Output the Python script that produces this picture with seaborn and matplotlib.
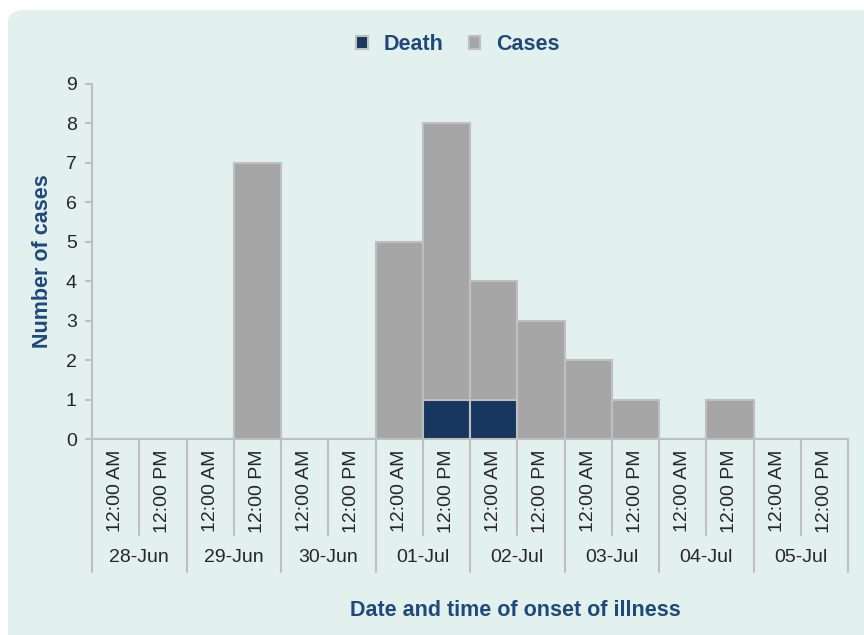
import matplotlib
matplotlib.use("Agg")
import matplotlib.pyplot as plt
from matplotlib.patches import FancyBboxPatch, Patch
import matplotlib.transforms as mtransforms
import seaborn as sns
import pandas as pd

# data
days = ["28-Jun", "29-Jun", "30-Jun", "01-Jul", "02-Jul", "03-Jul", "04-Jul", "05-Jul"]
halves = ["12:00 AM", "12:00 PM"]
deaths = [0, 0, 0, 0, 0, 0, 0, 1, 1, 0, 0, 0, 0, 0, 0, 0]
cases = [0, 0, 0, 7, 0, 0, 5, 7, 3, 3, 2, 1, 0, 1, 0, 0]  # stacked above deaths

GRAY = "#a6a6a6"
NAVY = "#17375e"
EDGE = "#bfbfbf"
BLUE = "#1f497d"
BG = "#e2f1ee"

sns.set_style("white")
plt.rcParams["font.family"] = ["Liberation Sans", "DejaVu Sans"]

slots = list(range(len(cases)))
df = pd.DataFrame({
    "slot": slots,
    "death": deaths,
    "total": [d + c for d, c in zip(deaths, cases)],
})

fig = plt.figure(figsize=(8.64, 6.35), dpi=100)
fig.patch.set_facecolor("white")
bg = FancyBboxPatch((8 / 864, 0 - 0.05), 1.2, 1 - 10 / 635 + 0.05,
                    boxstyle="round,pad=0,rounding_size=0.02",
                    transform=fig.transFigure, facecolor=BG, edgecolor="none", zorder=-5)
fig.patches.append(bg)

ax = fig.add_axes([92 / 864, 1 - 439 / 635, (848 - 92) / 864, (439 - 84) / 635])
ax.set_facecolor("none")

sns.barplot(data=df, x="slot", y="total", color=GRAY, width=1, edgecolor=EDGE,
            linewidth=1.5, saturation=1, ax=ax, zorder=2)
sns.barplot(data=df, x="slot", y="death", color=NAVY, width=1, edgecolor=EDGE,
            linewidth=1.5, saturation=1, ax=ax, zorder=3)

ax.set_xlim(-0.5, len(slots) - 0.5)
ax.set_ylim(0, 9)
ax.set_yticks(range(0, 10))
ax.tick_params(axis="y", labelsize=14, length=5, color=EDGE, width=1.5, pad=6, left=True)
ax.tick_params(axis="x", bottom=False, labelbottom=False)
for s in ["top", "right"]:
    ax.spines[s].set_visible(False)
for s in ["left", "bottom"]:
    ax.spines[s].set_color(EDGE)
    ax.spines[s].set_linewidth(1.5)
ax.set_xlabel("")
ax.set_ylabel("Number of cases", fontsize=15.5, fontweight="bold", color=BLUE, labelpad=9)

# multi-level category axis
trans = mtransforms.blended_transform_factory(ax.transData, ax.transAxes)
px = 1 / (439 - 84)
for i in range(len(slots) + 1):
    depth = 133 if i % 2 == 0 else 96
    ax.plot([i - 0.5, i - 0.5], [0, -depth * px], transform=trans, color=EDGE,
            lw=1.5, clip_on=False, zorder=1)
for i in slots:
    ax.text(i, -52 * px, halves[i % 2], transform=trans, rotation=90, ha="center",
            va="center", fontsize=14)
for j, d in enumerate(days):
    ax.text(2 * j + 0.5, -119 * px, d, transform=trans, ha="center", va="center",
            fontsize=14)

fig.text(515 / 864, 1 - 610 / 635, "Date and time of onset of illness", ha="center",
         va="center", fontsize=15.5, fontweight="bold", color=BLUE)

handles = [Patch(facecolor=NAVY, edgecolor=EDGE, linewidth=1.5, label="Death"),
           Patch(facecolor=GRAY, edgecolor=EDGE, linewidth=1.5, label="Cases")]
leg = fig.legend(handles=handles, loc="center", bbox_to_anchor=(458 / 864, 1 - 45 / 635),
                 ncol=2, frameon=False, handlelength=0.55, handleheight=0.55,
                 handletextpad=0.75, columnspacing=1.15,
                 prop={"size": 15.5, "weight": "bold"})
for t in leg.get_texts():
    t.set_color(BLUE)

fig.savefig("out.png", dpi=100)
